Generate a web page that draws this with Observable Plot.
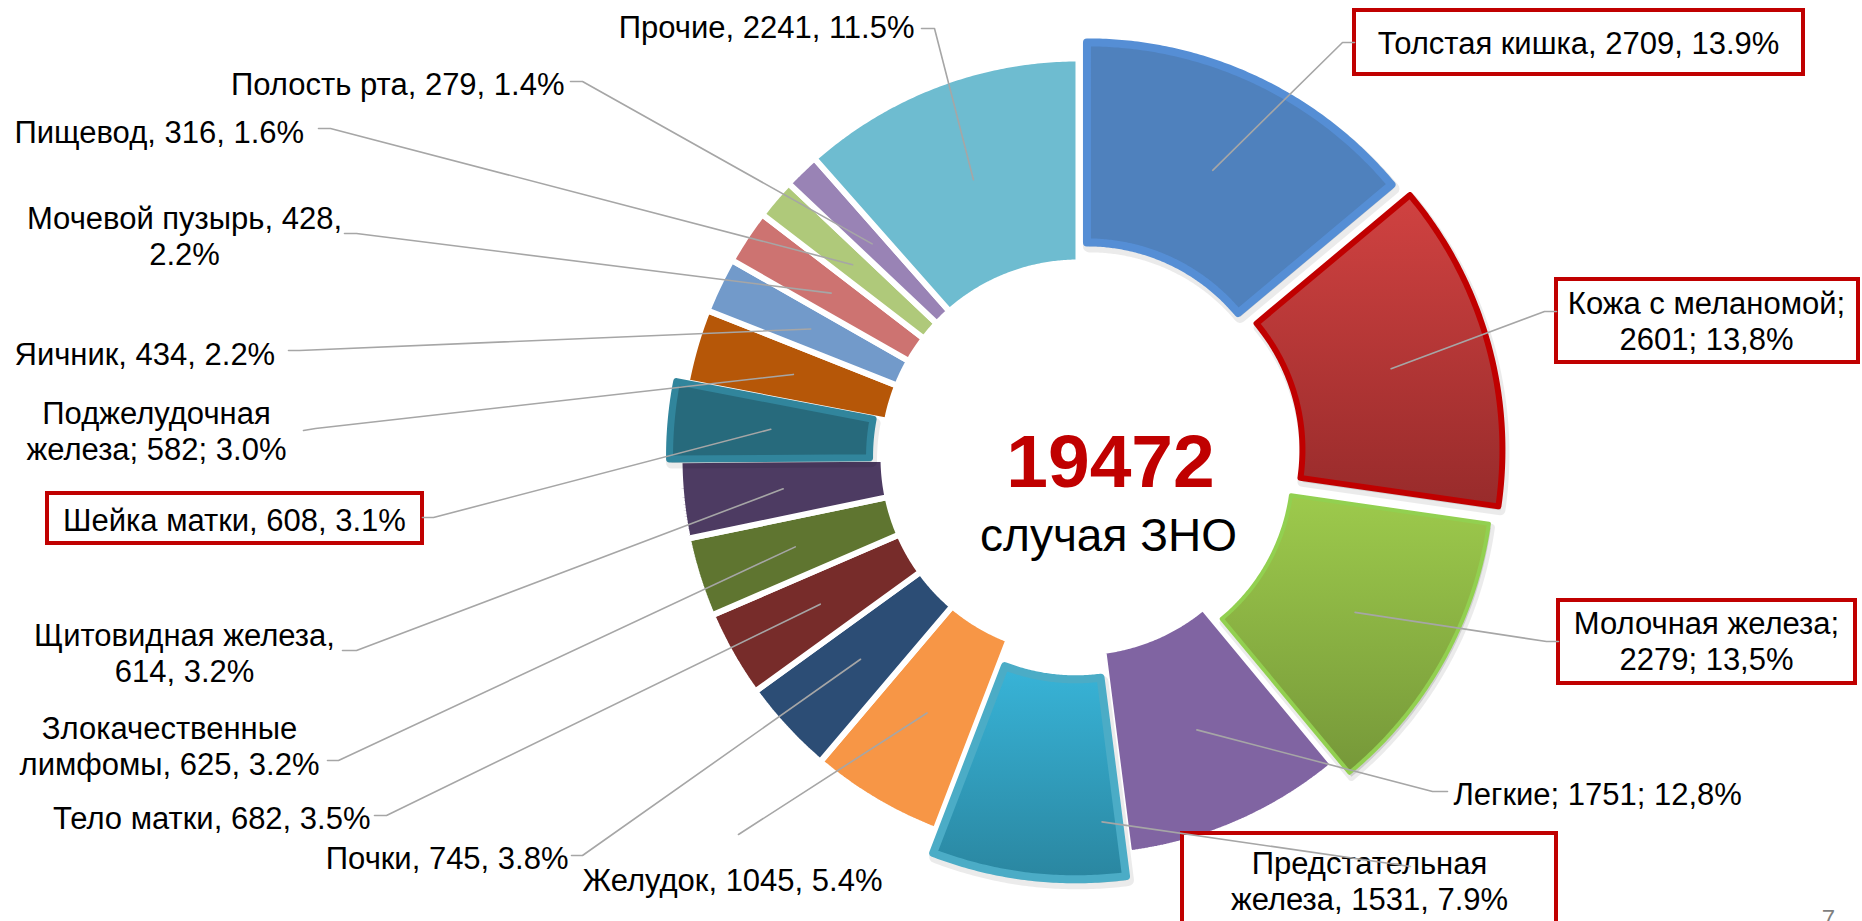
<!DOCTYPE html>
<html><head><meta charset="utf-8">
<script src="https://cdn.jsdelivr.net/npm/d3@7"></script>
<script src="https://cdn.jsdelivr.net/npm/@observablehq/plot@0.6"></script>
<style>
html,body{margin:0;padding:0;background:#fff;overflow:hidden}
#chart{position:relative;width:1862px;height:921px}
</style>
</head><body>
<div id="chart"></div>
<script>
// ---------- data ----------
const categories = ["Толстая кишка","Кожа с меланомой","Молочная железа","Легкие","Предстательная железа","Желудок","Почки","Тело матки","Злокачественные лимфомы","Щитовидная железа","Шейка матки","Поджелудочная железа","Яичник","Мочевой пузырь","Пищевод","Полость рта","Прочие"];
const values = [2709,2601,2279,1751,1531,1045,745,682,625,614,608,582,434,428,316,279,2241];
const labelTexts = [
  "Толстая кишка, 2709, 13.9%",
  "Кожа с меланомой;\n2601; 13,8%",
  "Молочная железа;\n2279; 13,5%",
  "Легкие; 1751; 12,8%",
  "Предстательная\nжелеза, 1531, 7.9%",
  "Желудок, 1045, 5.4%",
  "Почки, 745, 3.8%",
  "Тело матки, 682, 3.5%",
  "Злокачественные\nлимфомы, 625, 3.2%",
  "Щитовидная железа,\n614, 3.2%",
  "Шейка матки, 608, 3.1%",
  "Поджелудочная\nжелеза; 582; 3.0%",
  "Яичник, 434, 2.2%",
  "Мочевой пузырь, 428,\n2.2%",
  "Пищевод, 316, 1.6%",
  "Полость рта, 279, 1.4%",
  "Прочие, 2241, 11.5%"
];
const totalText = "19472";
const totalCaption = "случая ЗНО";
const pageNumber = "7";

// ---------- styles ----------
const sliceFill = ["#4F81BD","url(#gKoza)","url(#gMol)","#8064A2","url(#gPred)","#F79646","#2C4D75","#772C2A","#5F7530","#4D3B62","#276A7C","#B65708","#729ACA","#CD7371","#AFC97A","#9983B5","#6EBCD0"];
const sliceEdge = ["#558ED5","#C00000","#92D050",null,"#4BACC6",null,null,null,null,null,"#31859C",null,null,null,null,null,null];
const edgeWidth = [8,6,4,0,8,0,0,0,0,0,7,0,0,0,0,0,0];
const explode = [20,28,20,0,25,0,0,0,0,0,12,0,0,0,0,0,0];

// ---------- layout ----------
const W = 1862, H = 921;
const cx = 1078, cy = 457, R = 399, r0 = 195, Rx = 397, rx = 197;
const FS = 31;
const labelPos = [
  [1578, 42, "middle"], [1706, 320, "middle"], [1706, 640, "middle"], [1453, 793, "start"],
  [1369, 880, "middle"], [582, 879, "start"], [568, 857, "end"], [370, 817, "end"],
  [169, 745, "middle"], [184, 652, "middle"], [234, 519, "middle"], [156, 430, "middle"],
  [14, 353, "start"], [184, 235, "middle"], [14, 131, "start"], [564, 83, "end"], [914, 26, "end"]
];
const boxPos = {0:[1354,10,1803,74], 1:[1556,279,1858,362], 2:[1558,600,1855,683], 4:[1182,833,1556,928], 10:[47,493,422,543]};
const leaderEnds = [
  [[1342,42],[1354,42]], [[1544,311],[1556,311]], [[1546,641],[1558,641]], [[1432,791],[1447,791]],
  [[1410,866]], [[738,834]], [[582,855],[571,855]], [[386,815],[374,815]],
  [[338,760],[327,760]], [[356,650],[342,650]], [[433,517],[422,517]], [[315,428],[303,430]],
  [[299,350],[288,350]], [[356,233],[344,233]], [[330,128],[318,128]], [[582,81],[570,81]], [[934,28],[921,28]]
];
const anchorFrac = {4: [0.1, 0.72]};

// ---------- geometry from data ----------
const arcs = d3.pie().sort(null).value(d => d)(values);
function ring(a0, a1, ri, ro, ox, oy) {
  const pts = [];
  const n = Math.max(8, Math.ceil((a1 - a0) / 0.008));
  for (let i = 0; i <= n; i++) { const a = a0 + (a1 - a0) * i / n; pts.push({x: ox + ro * Math.sin(a), y: oy - ro * Math.cos(a)}); }
  for (let i = n; i >= 0; i--) { const a = a0 + (a1 - a0) * i / n; pts.push({x: ox + ri * Math.sin(a), y: oy - ri * Math.cos(a)}); }
  pts.push(pts[0]);
  return pts;
}
const slices = arcs.map((a, i) => {
  const mid = (a.startAngle + a.endAngle) / 2;
  const ox = cx + explode[i] * Math.sin(mid), oy = cy - explode[i] * Math.cos(mid);
  const ex = explode[i] > 0;
  const pts = ring(a.startAngle, a.endAngle, ex ? rx : r0, ex ? Rx : R, ox, oy);
  const [fa, fr] = anchorFrac[i] || [0.5, 0.5];
  const aa = a.startAngle + (a.endAngle - a.startAngle) * fa;
  const rr = 198 + (396 - 198) * fr;
  return {i, pts, ex, anchor: [ox + rr * Math.sin(aa), oy - rr * Math.cos(aa)]};
});

const marks = [];
for (const s of slices.filter(s => !s.ex)) {
  marks.push(Plot.line(s.pts, {x: "x", y: "y", fill: sliceFill[s.i], stroke: "white", strokeWidth: 6, strokeLinejoin: "miter", curve: "linear"}));
}
// soft shadow under exploded slices
for (const s of slices.filter(s => s.ex)) {
  marks.push(Plot.line(s.pts.map(p => ({x: p.x + 2, y: p.y + 4})), {x: "x", y: "y", fill: "#000", fillOpacity: 0.12, stroke: "#000", strokeOpacity: 0.08, strokeWidth: edgeWidth[s.i] + 4, strokeLinejoin: "round", curve: "linear"}));
}
for (const s of slices.filter(s => s.ex)) {
  marks.push(Plot.line(s.pts, {x: "x", y: "y", fill: sliceFill[s.i], stroke: sliceEdge[s.i], strokeWidth: edgeWidth[s.i], strokeLinejoin: "round", strokeLinecap: "round", curve: "linear"}));
}
const boxes = Object.entries(boxPos).map(([k, b]) => ({x1: b[0], y1: b[1], x2: b[2], y2: b[3]}));
marks.push(Plot.rect(boxes, {x1: "x1", y1: "y1", x2: "x2", y2: "y2", fill: "white", stroke: "#C00000", strokeWidth: 4}));

const labels = labelTexts.map((t, i) => ({text: t, x: labelPos[i][0], y: labelPos[i][1], anchor: labelPos[i][2]}));
for (const anc of ["start", "middle", "end"]) {
  marks.push(Plot.text(labels.filter(d => d.anchor === anc), {x: "x", y: "y", text: "text", textAnchor: anc, fontSize: FS, lineHeight: 1.17, fontFamily: "Liberation Sans, Arial, sans-serif", fill: "#000"}));
}
const leaders = [];
slices.forEach(s => {
  leaders.push({id: s.i, x: s.anchor[0], y: s.anchor[1]});
  for (const p of leaderEnds[s.i]) leaders.push({id: s.i, x: p[0], y: p[1]});
});
marks.push(Plot.line(leaders, {x: "x", y: "y", z: "id", stroke: "#A6A6A6", strokeWidth: 1.6}));

marks.push(Plot.text([totalText], {x: () => 1110, y: () => 462, text: d => d, fontSize: 75, fontWeight: "bold", fill: "#C00000", fontFamily: "Liberation Sans, Arial, sans-serif"}));
marks.push(Plot.text([totalCaption], {x: () => 1108, y: () => 536, text: d => d, fontSize: 46, fill: "#000", fontFamily: "Liberation Sans, Arial, sans-serif"}));
marks.push(Plot.text([pageNumber], {x: () => 1828, y: () => 909, text: d => d, fontSize: 24, lineAnchor: "top", fill: "#7F7F7F", fontFamily: "Liberation Sans, Arial, sans-serif"}));

const chart = Plot.plot({
  width: W, height: H, margin: 0,
  x: {domain: [0, W], range: [0, W], axis: null},
  y: {domain: [0, H], range: [0, H], axis: null},
  style: {background: "white", overflow: "hidden"},
  marks
});
const NS = "http://www.w3.org/2000/svg";
const defs = document.createElementNS(NS, "defs");
defs.innerHTML = `
 <linearGradient id="gKoza" x1="0" y1="0" x2="0" y2="1"><stop offset="0" stop-color="#D04241"/><stop offset="1" stop-color="#982B2B"/></linearGradient>
 <linearGradient id="gMol" x1="0" y1="0" x2="0" y2="1"><stop offset="0" stop-color="#9DCA4C"/><stop offset="1" stop-color="#769839"/></linearGradient>
 <linearGradient id="gPred" x1="0" y1="0" x2="0" y2="1"><stop offset="0" stop-color="#38B4D8"/><stop offset="1" stop-color="#2A86A0"/></linearGradient>`;
chart.insertBefore(defs, chart.firstChild);
document.getElementById("chart").appendChild(chart);
</script>
</body></html>
